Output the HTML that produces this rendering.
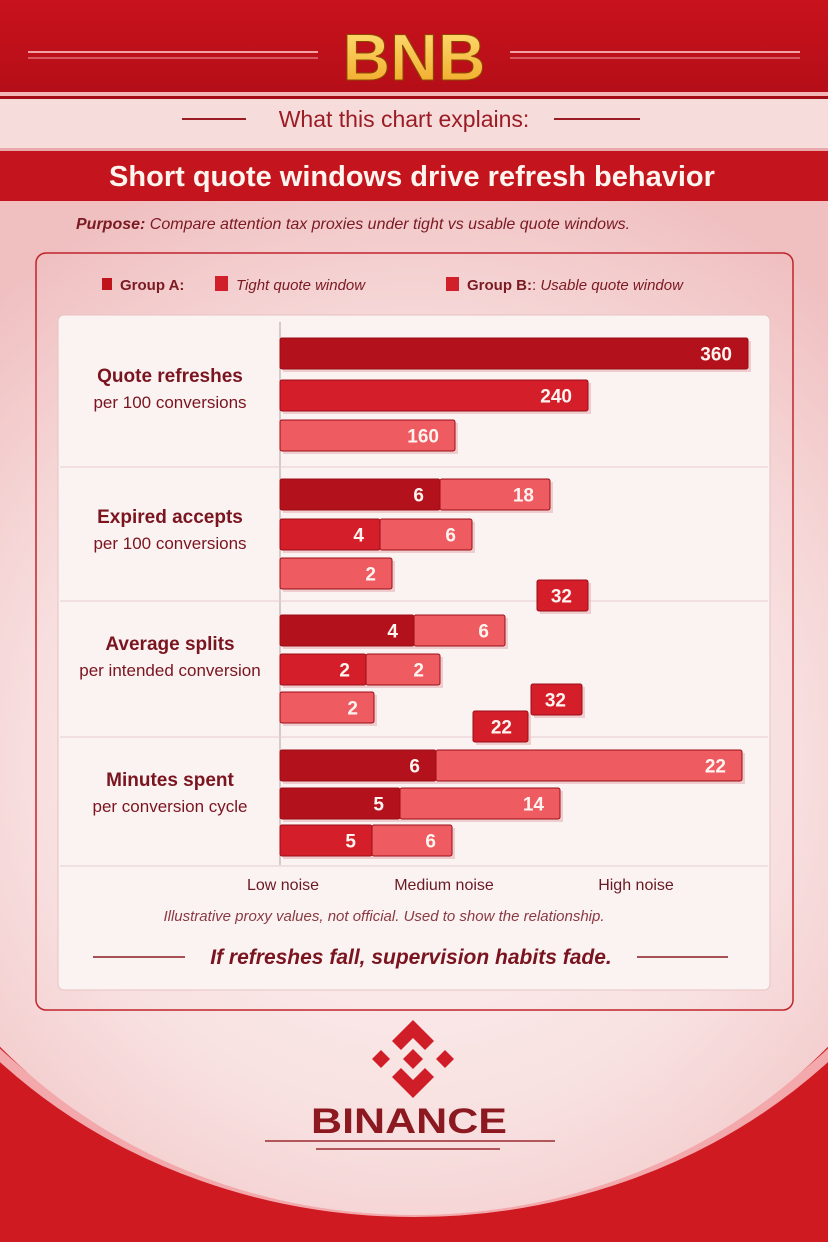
<!DOCTYPE html>
<html><head><meta charset="utf-8"><style>
body{margin:0;width:828px;height:1242px;overflow:hidden;font-family:"Liberation Sans",sans-serif;}
svg{display:block}
</style></head><body>
<svg id="root" width="828" height="1242" viewBox="0 0 828 1242">
<defs>
<linearGradient id="topG" x1="0" y1="0" x2="0" y2="1"><stop offset="0" stop-color="#c8121c"/><stop offset="1" stop-color="#b50e18"/></linearGradient>
<radialGradient id="bodyG" gradientUnits="userSpaceOnUse" cx="414" cy="760" r="620"><stop offset="0" stop-color="#fdf5f5"/><stop offset="0.6" stop-color="#f8e0e0"/><stop offset="1" stop-color="#f0c0c1"/></radialGradient>
<linearGradient id="gold" x1="0" y1="0" x2="0" y2="1"><stop offset="0" stop-color="#ffe27a"/><stop offset="1" stop-color="#f0a522"/></linearGradient>
<clipPath id="lowClip"><rect x="0" y="995" width="828" height="247"/></clipPath>
</defs>
<rect width="828" height="1242" fill="url(#bodyG)"/>
<!-- bottom red swoosh -->
<g clip-path="url(#lowClip)">
<rect x="0" y="990" width="828" height="252" fill="#cf1a22"/>
<ellipse cx="414" cy="700" rx="575" ry="512" fill="none" stroke="#f3a9ab" stroke-width="10"/>
<ellipse cx="414" cy="700" rx="560" ry="515" fill="url(#bodyG)"/>
</g>
<!-- header -->
<rect x="0" y="0" width="828" height="92" fill="url(#topG)"/>
<line x1="28" y1="52" x2="318" y2="52" stroke="#f2a0a2" stroke-width="2"/><line x1="28" y1="58" x2="318" y2="58" stroke="#f2a0a2" stroke-width="1"/>
<line x1="510" y1="52" x2="800" y2="52" stroke="#f2a0a2" stroke-width="2"/><line x1="510" y1="58" x2="800" y2="58" stroke="#f2a0a2" stroke-width="1"/>
<text x="414" y="80" text-anchor="middle" font-size="66" font-weight="bold" fill="url(#gold)" stroke="#8a4a00" stroke-width="1">BNB</text>
<rect x="0" y="92" width="828" height="4" fill="#f3b5b6"/>
<rect x="0" y="96" width="828" height="3" fill="#a50d16"/>
<rect x="0" y="99" width="828" height="50" fill="#f7dcdc"/>
<line x1="182" y1="119" x2="246" y2="119" stroke="#9a1c24" stroke-width="2"/><line x1="554" y1="119" x2="640" y2="119" stroke="#9a1c24" stroke-width="2"/>
<text x="404" y="127" text-anchor="middle" font-size="23" fill="#9a1c24">What this chart explains:</text>
<rect x="0" y="148" width="828" height="3" fill="#e9a9aa"/>
<rect x="0" y="151" width="828" height="50" fill="#c4141d"/>
<text x="412" y="186" text-anchor="middle" font-size="29" font-weight="bold" fill="#fff4ee">Short quote windows drive refresh behavior</text>
<text x="76" y="229" font-size="16" fill="#7a1a22" font-style="italic"><tspan font-weight="bold">Purpose:</tspan> Compare attention tax proxies under tight vs usable quote windows.</text>
<!-- panel -->
<rect x="36" y="253" width="757" height="757" rx="10" fill="none" stroke="#c0242c" stroke-width="1.5"/>
<rect x="58" y="315" width="712" height="675" rx="6" fill="#fbf2f2" stroke="#e8c2c2"/>
<!-- legend -->
<g>
<rect x="102" y="278" width="10" height="12" fill="#c0141d"/><text x="120" y="290" font-size="15" font-weight="bold" fill="#7a1a22">Group A:</text>
<rect x="215" y="276" width="13" height="15" fill="#d0202a"/><text x="236" y="290" font-size="15" font-style="italic" fill="#7a1a22">Tight quote window</text>
<rect x="446" y="277" width="13" height="14" fill="#d0202a"/><text x="467" y="290" font-size="15" fill="#7a1a22"><tspan font-weight="bold">Group B:</tspan>: <tspan font-style="italic">Usable quote window</tspan></text>
</g>
<line x1="280" y1="322" x2="280" y2="865" stroke="#b0a0a0" stroke-width="1"/>
<g id="seps"></g>
<g id="bars"></g>
<g id="cats"></g>
<g id="xlabels"></g>
<text x="384" y="921" text-anchor="middle" font-size="15" font-style="italic" fill="#8a3a42">Illustrative proxy values, not official. Used to show the relationship.</text>
<line x1="93" y1="957" x2="185" y2="957" stroke="#8a1a22" stroke-width="1.5"/><line x1="637" y1="957" x2="728" y2="957" stroke="#8a1a22" stroke-width="1.5"/>
<text x="411" y="964" text-anchor="middle" font-size="21" font-weight="bold" font-style="italic" fill="#7a1520">If refreshes fall, supervision habits fade.</text>
<!-- binance logo -->
<g fill="#d01e28">
<polygon points="413,1020 434,1041 425,1050 413,1038 401,1050 392,1041"/>
<polygon points="372,1059 381,1050 390,1059 381,1068"/>
<polygon points="436,1059 445,1050 454,1059 445,1068"/>
<polygon points="413,1049 423,1059 413,1069 403,1059"/>
<polygon points="413,1098 434,1077 425,1068 413,1080 401,1068 392,1077"/>
</g>
<text x="409" y="1133" text-anchor="middle" font-size="35" font-weight="bold" fill="#8c1820" textLength="196" lengthAdjust="spacingAndGlyphs">BINANCE</text>
<line x1="265" y1="1141" x2="555" y2="1141" stroke="#9a2a30" stroke-width="1.5"/>
<line x1="316" y1="1149" x2="500" y2="1149" stroke="#9a2a30" stroke-width="1.5"/>
</svg>
<script>
// categories
const categories=[["Quote refreshes","per 100 conversions"],["Expired accepts","per 100 conversions"],["Average splits","per intended conversion"],["Minutes spent","per conversion cycle"]];
const categoryY=[388,529,656,792];
// segments
const segStart=[0,0,0, 0,160,0,100,0, 257, 0,134,0,86,0, 251,193, 0,156,0,120,0,92];
const segEnd=[468,308,175, 160,270,100,192,112, 308, 134,225,86,160,94, 302,248, 156,462,120,280,92,172];
const segLabels=["360","240","160","6","18","4","6","2","32","4","6","2","2","2","32","22","6","22","5","14","5","6"];
const segRowTop=[338,380,420,479,479,519,519,558,580,615,615,654,654,692,684,711,750,750,788,788,825,825];
const segKind=["d","r","l","d","l","r","l","l","r","d","l","r","l","l","r","r","d","l","d","l","r","l"];
const xTickLabels=["Low noise","Medium noise","High noise"];
const xTickPos=[3,164,356];
const separators=[467,601,737,866];
const X0=280, xScale=v=>X0+v;
const fills={d:"#b3111b",r:"#d41f2a",l:"#ee5b60"};
const NS="http://www.w3.org/2000/svg";
function mk(t,a){const e=document.createElementNS(NS,t);for(const k in a)e.setAttribute(k,a[k]);return e;}
const seps=document.getElementById('seps');
separators.forEach(y=>{const l=mk('line',{x1:60,y1:y,x2:768,y2:y,stroke:'#e6cfd0','stroke-width':1});


seps.appendChild(l);});
const bars=document.getElementById('bars');
segStart.forEach((s,i)=>{
 const x=xScale(s),w=xScale(segEnd[i])-x,y=segRowTop[i],h=31;
 const g=mk('g',{});
 
 
 g.appendChild(mk('rect',{x:x+3,y:y+3,width:w,height:h,fill:'#e8b4b6',opacity:0.6}));
 g.appendChild(mk('rect',{x:x,y:y,width:w,height:h,rx:2,fill:fills[segKind[i]],stroke:'#9a0d16','stroke-width':1}));
 const t=mk('text',{x:x+w-16,y:y+h/2+7,'text-anchor':'end','font-size':19,'font-weight':'bold',fill:'#fff4f0'});
 t.textContent=segLabels[i];g.appendChild(t);
 bars.appendChild(g);
});
const cats=document.getElementById('cats');
categories.forEach((c,i)=>{
 const t1=mk('text',{x:170,y:categoryY[i]-6,'text-anchor':'middle','font-size':19,'font-weight':'bold',fill:'#7a1520'});
 
 
 t1.textContent=c[0];cats.appendChild(t1);
 const t2=mk('text',{x:170,y:categoryY[i]+20,'text-anchor':'middle','font-size':17,fill:'#7a1520'});
 
 
 t2.textContent=c[1];cats.appendChild(t2);
});
const xl=document.getElementById('xlabels');
xTickLabels.forEach((l,i)=>{
 const t=mk('text',{x:xScale(xTickPos[i]),y:890,'text-anchor':'middle','font-size':16,fill:'#6a1a22'});
 
 
 t.textContent=l;xl.appendChild(t);
});
</script>
</body></html>
